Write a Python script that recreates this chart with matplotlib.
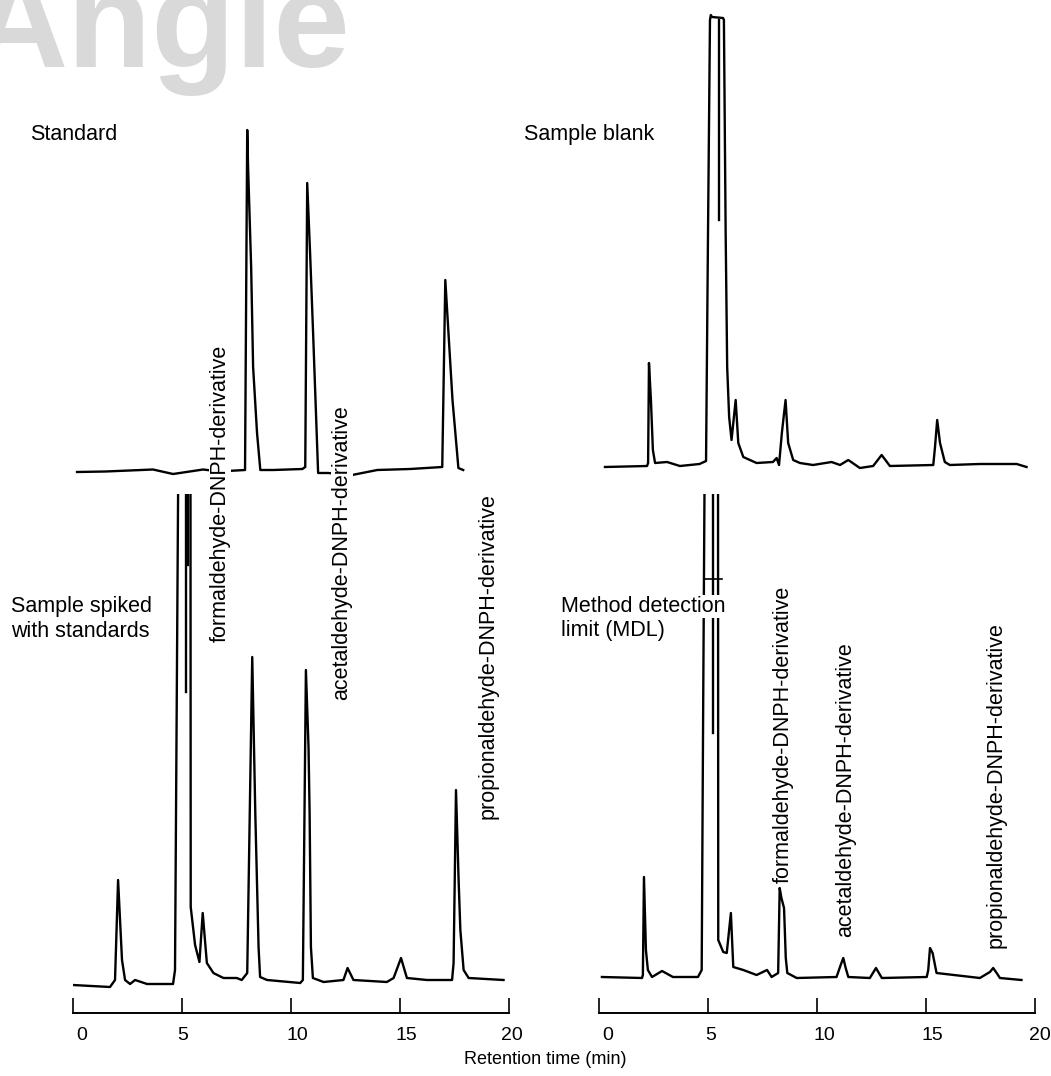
import matplotlib.pyplot as plt
from matplotlib.transforms import ScaledTranslation

plt.rcParams['font.family'] = ['Liberation Sans', 'DejaVu Sans']

# chromatogram traces: retention time (min) and detector signal above baseline (arb. units)
standard_t = [0.20, 1.50, 2.60, 3.68, 4.60, 5.98, 6.53, 7.08, 7.90, 8.00, 8.04, 8.18, 8.27,
              8.45, 8.60, 9.20, 10.53, 10.66, 10.75, 10.88, 11.02, 11.25, 11.71, 12.81, 13.96,
              15.47, 16.94, 17.08, 17.25, 17.41, 17.68, 17.90]
standard_s = [0, 0.5, 1.5, 2.5, -2, 2.5, 1, 1, 2, 342, 305, 205, 105,
              39, 2, 2, 3, 5, 289, 220, 139, -1, -1, -3, 2,
              3, 5, 192, 130, 72, 4, 2]

blank_t = [0.26, 2.19, 2.24, 2.28, 2.37, 2.46, 2.56, 3.11, 3.70, 4.60, 4.90, 4.99, 5.08, 5.12,
           5.17, 5.68, 5.72, 5.80, 5.87, 5.96, 6.07, 6.26, 6.38, 6.61, 7.22, 7.97, 8.14, 8.25,
           8.38, 8.55, 8.67, 8.90, 9.21, 9.81, 10.66, 11.05, 11.43, 11.96, 12.57, 12.96, 13.34,
           15.33, 15.41, 15.51, 15.64, 15.86, 16.09, 17.47, 19.16, 19.61]
blank_s = [0, 1, 4, 104, 67, 17, 4, 5, 1, 3, 6, 234, 447, 452,
           450, 449, 447, 234, 100, 50, 27, 67, 24, 10, 4, 5, 9, 2,
           34, 67, 24, 7, 4, 2, 5, 2, 7, -1, 1, 12, 1,
           2, 20, 47, 24, 5, 2, 3, 3, 0]
blank_inner_t = [5.48, 5.48]
blank_inner_s = [247, 447]

spiked_t = [0.00, 1.71, 1.94, 2.08, 2.26, 2.40, 2.63, 2.86, 3.41, 4.60, 4.69, 4.74, 4.83, 4.86,
            5.37, 5.40, 5.41, 5.61, 5.81, 5.96, 6.15, 6.45, 6.91, 7.52, 7.75, 8.00, 8.23, 8.37,
            8.52, 8.59, 8.91, 10.43, 10.55, 10.69, 10.81, 10.86, 10.92, 11.01, 11.50, 12.41,
            12.60, 12.87, 14.40, 14.71, 15.05, 15.32, 16.24, 17.39, 17.46, 17.57, 17.69, 17.77,
            17.92, 18.15, 19.75]
spiked_s = [0, -2, 5, 105, 25, 5, 1, 5, 1, 1, 15, 185, 488, 600,
            600, 490, 78, 40, 23, 72, 22, 12, 7, 7, 5, 12, 328, 172,
            38, 8, 5, 2, 5, 315, 238, 172, 38, 7, 3, 5,
            17, 5, 3, 7, 27, 7, 5, 5, 22, 195, 105, 55,
            15, 7, 5]
spiked_inner_t = [[5.20, 5.20], [5.30, 5.30]]
spiked_inner_s = [[600, 293], [600, 420]]

mdl_t = [0.12, 1.96, 2.00, 2.05, 2.14, 2.23, 2.42, 2.88, 3.38, 4.53, 4.70, 4.77, 4.86, 5.44,
         5.45, 5.46, 5.69, 5.85, 6.04, 6.15, 6.61, 7.22, 7.70, 7.91, 8.21, 8.28, 8.36, 8.48,
         8.56, 8.63, 9.06, 10.89, 11.08, 11.20, 11.31, 11.43, 12.42, 12.70, 12.97, 15.03,
         15.10, 15.18, 15.30, 15.48, 17.47, 17.93, 18.08, 18.24, 18.39, 19.38]
mdl_s = [1, 0, 3, 101, 28, 8, 1, 7, 1, 1, 8, 278, 600, 600,
         485, 38, 26, 25, 65, 11, 8, 3, 8, 1, 5, 90, 80, 70,
         20, 5, 0, 1, 13, 20, 10, 1, 0, 10, 0, 1,
         8, 30, 25, 5, 0, 6, 10, 5, 0, -2]
mdl_inner_t = [5.23, 5.23]
mdl_inner_s = [600, 245]
mdl_bar_t = [4.82, 5.62]
mdl_bar_s = [399, 399]

time_ticks = [0, 5, 10, 15, 20]

# layout in pixels of the 1051 x 1076 output
W, H = 1051, 1076
fig = plt.figure(figsize=(W / 100, H / 100), dpi=100)


def fx(px):
    return px / W


def fy(py):
    return 1 - py / H


def panel(x0, x1, y0, y1, base, bottom_axis, label_shift=None):
    ax = fig.add_axes([fx(x0), fy(y1), (x1 - x0) / W, (y1 - y0) / H])
    ax.set_xlim(0, 20)
    ax.set_ylim(-(y1 - base), base - y0)
    ax.set_yticks([])
    for side in ['top', 'left', 'right']:
        ax.spines[side].set_visible(False)
    if bottom_axis:
        ax.spines['bottom'].set_linewidth(1.4)
        ax.set_xticks(time_ticks)
        ax.tick_params(axis='x', direction='in', length=11, width=1.2,
                       labelsize=14, pad=10)
        # the printed tick numbers sit a little right of their ticks
        for lab, dx in zip(ax.get_xticklabels(), label_shift):
            lab.set_transform(lab.get_transform() +
                              ScaledTranslation(dx / 100, 0, fig.dpi_scale_trans))
    else:
        ax.spines['bottom'].set_visible(False)
        ax.set_xticks([])
    ax.patch.set_alpha(0)
    return ax


left = (72.7, 509.0)
right = (599.3, 1035.0)
split = 494
axis_y = 1013

ax_std = panel(left[0], left[1], 0, split, 472, False)
ax_blank = panel(right[0], right[1], 0, split, 467, False)
ax_spk = panel(left[0], left[1], split, axis_y, 985, True, [9, 1, 7, 6, 3])
ax_mdl = panel(right[0], right[1], split, axis_y, 978, True, [8, 2, 7, 6, 5])

lw = 1.7
ax_std.plot(standard_t, standard_s, color='black', lw=lw)
ax_blank.plot(blank_t, blank_s, color='black', lw=lw)
ax_blank.plot(blank_inner_t, blank_inner_s, color='black', lw=lw)
ax_spk.plot(spiked_t, spiked_s, color='black', lw=lw)
for t, s in zip(spiked_inner_t, spiked_inner_s):
    ax_spk.plot(t, s, color='black', lw=lw)
ax_mdl.plot(mdl_t, mdl_s, color='black', lw=lw)
ax_mdl.plot(mdl_inner_t, mdl_inner_s, color='black', lw=lw)
ax_mdl.plot(mdl_bar_t, mdl_bar_s, color='black', lw=1.2)

# watermark, cut by the top edge as in the source
fig.text(fx(-31), fy(67), 'Angle', fontsize=99, fontweight='bold',
         color='#d9d9d9', ha='left', va='baseline', zorder=0)

# panel titles
fs = 15.5
fig.text(fx(30), fy(140), 'Standard', fontsize=fs, ha='left', va='baseline')
fig.text(fx(524), fy(140), 'Sample blank', fontsize=fs, ha='left', va='baseline')
fig.text(fx(11), fy(612), 'Sample spiked', fontsize=fs, ha='left', va='baseline')
fig.text(fx(11), fy(637), 'with standards', fontsize=fs, ha='left', va='baseline')
fig.text(fx(561), fy(612), 'Method detection', fontsize=fs, ha='left', va='baseline',
         bbox=dict(facecolor='white', edgecolor='none', pad=1))
fig.text(fx(561), fy(636), 'limit (MDL)', fontsize=fs, ha='left', va='baseline')

# peak labels
box = dict(facecolor='white', edgecolor='none', pad=0.5)
peak_labels = [
    (220, 493.5, 'formaldehyde-DNPH-derivative'),
    (342, 553, 'acetaldehyde-DNPH-derivative'),
    (488, 656, 'propionaldehyde-DNPH-derivative'),
    (783, 734.5, 'formaldehyde-DNPH-derivative'),
    (846, 790, 'acetaldehyde-DNPH-derivative'),
    (996, 785, 'propionaldehyde-DNPH-derivative'),
]
for x, y, txt in peak_labels:
    fig.text(fx(x), fy(y), txt, fontsize=fs, rotation=90, ha='center', va='center',
             bbox=box)

fig.text(fx(545), fy(1060), 'Retention time (min)', fontsize=13, ha='center', va='center')

fig.savefig('out.png', dpi=100, facecolor='white')
